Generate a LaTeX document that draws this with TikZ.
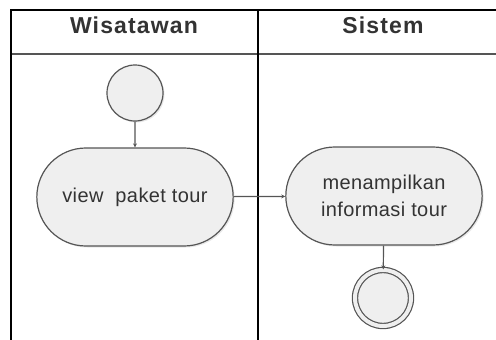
\documentclass[tikz,border=0pt]{standalone}
\usepackage{fontspec}
\setmainfont{Liberation Sans}
\usetikzlibrary{shapes.misc,arrows.meta,shadows}
\definecolor{edgegray}{HTML}{555555}
\definecolor{inkgray}{HTML}{333333}
\definecolor{fillgray}{HTML}{EFEFEF}
\tikzset{
  lane/.style={draw=black, line width=1.8pt},
  lanetitle/.style={text=inkgray, font=\bfseries\fontsize{23}{27}\selectfont\addfontfeature{LetterSpace=5}},
  act/.style={rounded rectangle, draw=edgegray, line width=1.2pt, fill=fillgray,
    minimum width=203pt, minimum height=98pt, align=center, text=inkgray,
    font=\fontsize{20}{27}\selectfont\addfontfeature{LetterSpace=2},
    drop shadow={shadow xshift=1.5pt, shadow yshift=-1.5pt, fill=gray!35}},
  startnode/.style={circle, draw=edgegray, line width=1.2pt, fill=fillgray,
    minimum size=56pt, inner sep=0pt,
    drop shadow={shadow xshift=1.5pt, shadow yshift=-1.5pt, fill=gray!35}},
  endnode/.style={circle, draw=edgegray, line width=1.2pt, fill=fillgray,
    minimum size=56pt, inner sep=0pt, double=fillgray, double distance=4pt,
    drop shadow={shadow xshift=1.5pt, shadow yshift=-1.5pt, fill=gray!35}},
  flow/.style={draw=edgegray, line width=1.2pt, -{Stealth[length=4pt,width=4pt]}}
}
\begin{document}
\begin{tikzpicture}[x=1pt,y=-1pt]
\useasboundingbox (0,0) rectangle (496,340);
% swimlanes
\draw[draw=edgegray, line width=1.4pt] (11,54) -- (496,54);
\draw[lane] (11,340) -- (11,10) -- (496,10);
\draw[lane] (258,10) -- (258,340);
\node[lanetitle] (wisatawan) at (134,25) {Wisatawan};
\node[lanetitle] (sistem) at (383,25) {Sistem};
% activities
\node[startnode] (start) at (135,93) {};
\node[act] (view) at (135,197) {view\ \ paket tour};
\node[act] (info) at (384,196) {menampilkan\\informasi tour};
\node[endnode] (finish) at (383,298) {};
% flows
\draw[flow] (start) -- (view);
\draw[flow] (view) -- (info);
\draw[flow] (info) -- (finish);
\end{tikzpicture}
\end{document}
